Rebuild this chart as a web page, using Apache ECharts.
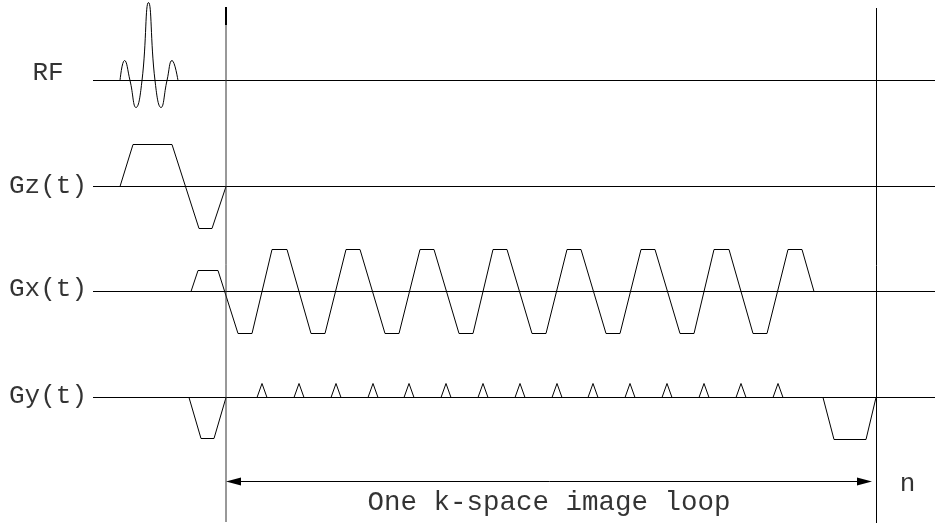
<!DOCTYPE html>
<html>
<head>
<meta charset="utf-8">
<script src="https://cdn.jsdelivr.net/npm/echarts@6/dist/echarts.min.js"></script>
<style>
  html, body { margin: 0; padding: 0; background: #fff; }
  #chart { width: 935px; height: 529px; }
</style>
</head>
<body>
<div id="chart"></div>
<script>
// Channel names shown beside each trace
const channels = ['RF', 'Gz(t)', 'Gx(t)', 'Gy(t)'];

// Waveform breakpoints as [time, amplitude]; amplitude is positive upward
const rfPulse = [[120, 0], [124.5, 20], [130, 0], [136, -27], [142, 0], [148.5, 78],
                 [155, 0], [161, -27], [167, 0], [172, 20], [178, 0]];
const gzWave = [[120, 0], [133, 42], [172, 42], [199, -42], [212, -42], [226, 0]];
const gxWave = [[191, 0], [198, 21], [218, 21], [238, -42], [252, -42],
                [272, 42], [287, 42], [311, -42], [325, -42],
                [346, 42], [360, 42], [385, -42], [399, -42],
                [420, 42], [434, 42], [459, -42], [473, -42],
                [493, 42], [507, 42], [532, -42], [546, -42],
                [567, 42], [581, 42], [606, -42], [620, -42],
                [641, 42], [655, 42], [680, -42], [694, -42],
                [714, 42], [729, 42], [753, -42], [767, -42],
                [788, 42], [802, 42], [814, 0]];
const gyPrephase = [[189, 0], [201, -41], [214, -41], [226, 0]];
const gyBlipCentres = [262, 299, 336, 373, 409, 446, 483, 520, 557, 593, 630, 667, 704, 741, 778];
const gyBlipHeight = 14;
const gyRewind = [[823, 0], [834, -42], [866, -42], [876, 0]];

// Start and end of one acquisition loop
const loopStart = 226;
const loopEnd = 876.5;
const loopLabel = 'One k-space image loop';
const repeatLabel = 'n';

// ---- layout ----
const W = 935, H = 529;
const baselineLevel = [80.5, 186.5, 291.5, 397.5];
const traceFrom = 93, traceTo = 935;
const nameX = 48;
const nameY = [73, 186, 289, 396];
const blipHalfWidth = 5;
const arrowY = 481.5;
const ink = '#000';
const font = '"Liberation Mono", "DejaVu Sans Mono", monospace';

const onChannel = (pts, ch) => pts.map(([t, a]) => [t, baselineLevel[ch] - a]);

// Gy: prephaser, a blip per echo, then rewinder, all on one trace
const gyTrace = [...gyPrephase];
gyBlipCentres.forEach(c => {
  gyTrace.push([c - blipHalfWidth, 0], [c, gyBlipHeight], [c + blipHalfWidth, 0]);
});
gyTrace.push(...gyRewind);

const lineSeries = (data, extra) => Object.assign({
  type: 'line', data, symbol: 'none', silent: true,
  lineStyle: { color: ink, width: 1 }, z: 3
}, extra || {});

const series = [];
channels.forEach((_, i) => {
  series.push(lineSeries([[traceFrom, baselineLevel[i]], [traceTo, baselineLevel[i]]], { z: 2 }));
});
series.push(lineSeries(onChannel(rfPulse, 0), { smooth: 0.5 }));
series.push(lineSeries(onChannel(gzWave, 1)));
series.push(lineSeries(onChannel(gxWave, 2)));
series.push(lineSeries(onChannel(gyTrace, 3)));

// Loop boundary markers
series.push(lineSeries([[loopStart, 7], [loopStart, 522]], { lineStyle: { color: '#333', width: 1 } }));
series.push(lineSeries([[loopStart, 7], [loopStart, 25]], { lineStyle: { color: ink, width: 2 } }));
series.push(lineSeries([[loopEnd, 8], [loopEnd, 523]]));

// Double-headed span arrow
series.push(lineSeries([[loopStart + 4, arrowY], [loopEnd - 8, arrowY]]));
series.push({
  type: 'custom', silent: true, z: 4,
  data: [[loopStart, arrowY, -1], [loopEnd - 4.5, arrowY, 1]],
  renderItem: (params, api) => {
    const p = api.coord([api.value(0), api.value(1)]);
    const d = api.value(2);
    return {
      type: 'polygon',
      shape: { points: [[p[0], p[1]], [p[0] - d * 15, p[1] - 4], [p[0] - d * 15, p[1] + 4]] },
      style: { fill: ink }
    };
  }
});

// Text labels
const labelStyle = (size) => ({
  show: true, position: 'inside', formatter: '{b}',
  color: ink, fontFamily: font, fontSize: size
});
series.push({
  type: 'scatter', symbolSize: 0, silent: true, z: 5,
  data: channels.map((name, i) => ({ name, value: [nameX, nameY[i]] })),
  label: labelStyle(26)
});
series.push({
  type: 'scatter', symbolSize: 0, silent: true, z: 5,
  data: [{ name: repeatLabel, value: [907.5, 484] }],
  label: labelStyle(26)
});
series.push({
  type: 'scatter', symbolSize: 0, silent: true, z: 5,
  data: [{ name: loopLabel, value: [549, 503] }],
  label: labelStyle(27.5)
});

const chart = echarts.init(document.getElementById('chart'), null, { renderer: 'canvas' });
chart.setOption({
  backgroundColor: '#fff',
  animation: false,
  grid: { left: 0, right: 0, top: 0, bottom: 0 },
  xAxis: { type: 'value', min: 0, max: W, show: false },
  yAxis: { type: 'value', min: 0, max: H, inverse: true, show: false },
  series
});
</script>
</body>
</html>
